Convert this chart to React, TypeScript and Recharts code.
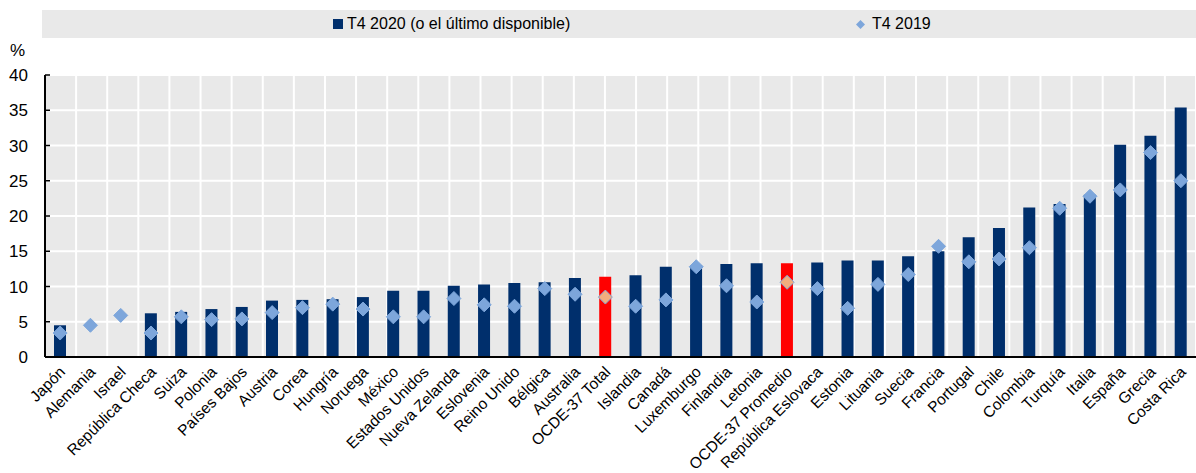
import {
  ComposedChart,
  CartesianGrid,
  XAxis,
  YAxis,
  Bar,
  Line,
  Cell,
} from 'recharts';

const categories = [
  'Japón', 'Alemania', 'Israel', 'República Checa', 'Suiza', 'Polonia', 'Países Bajos',
  'Austria', 'Corea', 'Hungría', 'Noruega', 'México', 'Estados Unidos', 'Nueva Zelanda',
  'Eslovenia', 'Reino Unido', 'Bélgica', 'Australia', 'OCDE-37 Total', 'Islandia', 'Canadá',
  'Luxemburgo', 'Finlandia', 'Letonia', 'OCDE-37 Promedio', 'República Eslovaca', 'Estonia',
  'Lituania', 'Suecia', 'Francia', 'Portugal', 'Chile', 'Colombia', 'Turquía', 'Italia',
  'España', 'Grecia', 'Costa Rica',
];

const q4_2020 = [
  4.5, null, null, 6.2, 6.4, 6.8, 7.1, 8.0, 8.1, 8.2, 8.5, 9.4, 9.4, 10.1, 10.3, 10.5, 10.6,
  11.2, 11.4, 11.6, 12.8, 13.0, 13.2, 13.3, 13.3, 13.4, 13.7, 13.7, 14.3, 15.0, 17.0, 18.3,
  21.2, 21.7, 23.0, 30.1, 31.4, 35.4,
];

const q4_2019 = [
  3.4, 4.5, 5.9, 3.4, 5.7, 5.3, 5.4, 6.3, 7.0, 7.5, 6.8, 5.7, 5.7, 8.3, 7.4, 7.2, 9.7, 8.9,
  8.5, 7.2, 8.1, 12.8, 10.1, 7.8, 10.6, 9.7, 6.9, 10.3, 11.7, 15.7, 13.5, 13.9, 15.5, 21.1,
  22.8, 23.7, 29.0, 25.0,
];

const highlighted = ['OCDE-37 Total', 'OCDE-37 Promedio'];
const yTicks = [0, 5, 10, 15, 20, 25, 30, 35, 40];

const NAVY = '#002F6C';
const RED = '#FF0000';
const DIAMOND = '#7DA6DB';
const DIAMOND_HL = '#F2AE7E';
const FONT = '"Liberation Sans", Arial, sans-serif';

const data = categories.map((name, i) => ({
  name,
  v2020: q4_2020[i],
  v2019: q4_2019[i],
  hl: highlighted.includes(name),
}));

const edgeTicks = categories.map((_, i) => i).concat(categories.length);

function Diamond(props: any) {
  const { cx, cy, payload, index } = props;
  if (cx == null || cy == null || payload.v2019 == null) return <g key={`d-${index}`} />;
  const r = 7;
  return (
    <path
      key={`d-${index}`}
      d={`M${cx},${cy - r}L${cx + r},${cy}L${cx},${cy + r}L${cx - r},${cy}Z`}
      fill={payload.hl ? DIAMOND_HL : DIAMOND}
      stroke={DIAMOND}
      strokeWidth={1}
    />
  );
}

function CategoryTick({ x, y, payload }: any) {
  const tx = x + 6;
  const ty = y + 8;
  return (
    <text
      x={tx}
      y={ty}
      transform={`rotate(-45 ${tx} ${ty})`}
      textAnchor="end"
      fontSize={15.5}
      fontFamily={FONT}
      fill="#000"
    >
      {payload.value}
    </text>
  );
}

function LegendBand() {
  return (
    <div
      style={{
        position: 'absolute',
        left: 42,
        top: 10,
        width: 1154,
        height: 28,
        background: '#e9e9e9',
        fontFamily: FONT,
        fontSize: 16,
        lineHeight: '18px',
        color: '#000',
      }}
    >
      <div style={{ position: 'absolute', left: 291, top: 9, width: 10, height: 10, background: NAVY }} />
      <span style={{ position: 'absolute', left: 305, top: 5 }}>T4 2020 (o el último disponible)</span>
      <svg style={{ position: 'absolute', left: 814, top: 10 }} width={9} height={9}>
        <path d="M4.5,0L9,4.5L4.5,9L0,4.5Z" fill={DIAMOND} />
      </svg>
      <span style={{ position: 'absolute', left: 830, top: 5 }}>T4 2019</span>
    </div>
  );
}

export default function App() {
  return (
    <div style={{ position: 'absolute', left: 0, top: 0, width: 1196, height: 473, background: '#fff', overflow: 'hidden' }}>
      <LegendBand />
      <div style={{ position: 'absolute', left: 10, top: 41, fontFamily: FONT, fontSize: 17 }}>%</div>
      <ComposedChart
        width={1196}
        height={473}
        data={data}
        margin={{ top: 75, right: 0, left: 0, bottom: 0 }}
        barSize={12}
      >
        <CartesianGrid
          xAxisId="edges"
          fill="#e9e9e9"
          stroke="#ffffff"
          strokeWidth={2}
        />
        <XAxis
          xAxisId="edges"
          type="number"
          domain={[0, categories.length]}
          ticks={edgeTicks}
          height={0}
          tickSize={-5}
          tickLine={{ stroke: '#000', strokeWidth: 1.5 }}
          axisLine={false}
          tick={() => <g />}
        />
        <XAxis
          dataKey="name"
          interval={0}
          height={116}
          tickLine={false}
          axisLine={{ stroke: '#000', strokeWidth: 2 }}
          tick={<CategoryTick />}
        />
        <YAxis
          domain={[0, 40]}
          ticks={yTicks}
          width={45}
          tickSize={-5}
          tickMargin={22}
          axisLine={{ stroke: '#000', strokeWidth: 2 }}
          tickLine={{ stroke: '#000', strokeWidth: 1.5 }}
          tick={{ fill: '#000', fontSize: 17, fontFamily: FONT }}
        />
        <Bar dataKey="v2020" isAnimationActive={false}>
          {data.map((d, i) => (
            <Cell key={i} fill={d.hl ? RED : NAVY} />
          ))}
        </Bar>
        <Line
          dataKey="v2019"
          stroke="none"
          dot={Diamond}
          activeDot={false}
          isAnimationActive={false}
        />
      </ComposedChart>
    </div>
  );
}
